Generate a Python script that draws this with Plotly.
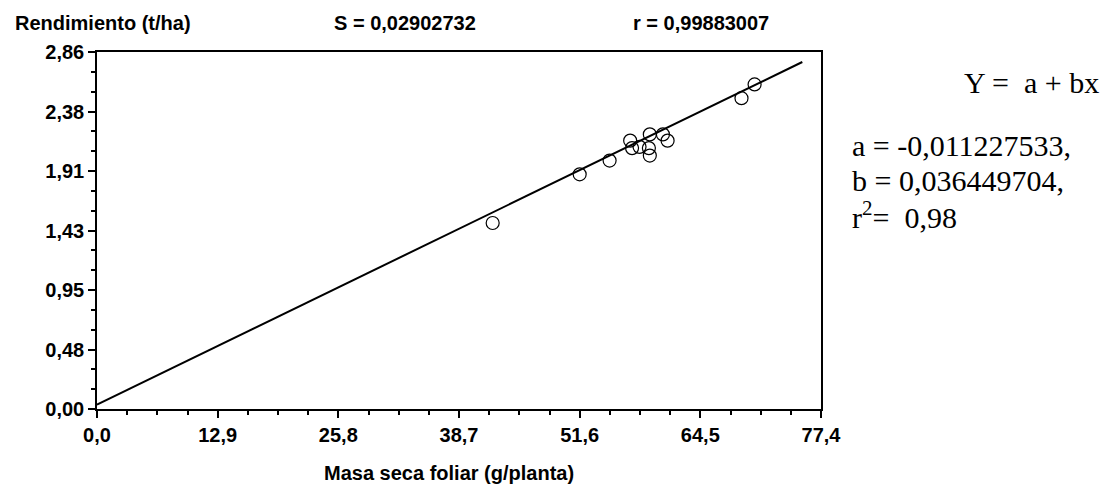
import plotly.graph_objects as go

# Observed points (masa seca foliar g/planta, rendimiento t/ha)
masa_seca = [42.3, 51.6, 54.8, 57.0, 57.2, 58.0, 59.1, 59.0, 59.1, 60.5, 61.0, 68.9, 70.3]
rendimiento = [1.49, 1.88, 1.99, 2.15, 2.09, 2.10, 2.20, 2.09, 2.03, 2.20, 2.15, 2.49, 2.60]

# Fitted line as drawn (endpoints)
linea_x = [0.0, 75.4]
linea_y = [0.035, 2.78]

x_tickvals = [0.0, 12.9, 25.8, 38.7, 51.6, 64.5, 77.4]
x_ticktext = ["0,0", "12,9", "25,8", "38,7", "51,6", "64,5", "77,4"]
y_tickvals = [0.0, 0.4767, 0.9533, 1.43, 1.9067, 2.3833, 2.86]
y_ticktext = ["0,00", "0,48", "0,95", "1,43", "1,91", "2,38", "2,86"]

header_texts = ["Rendimiento (t/ha)", "S = 0,02902732", "r = 0,99883007"]
eq_lines = ["Y =  a + bx", "a = -0,011227533,", "b = 0,036449704,", "r<sup>2</sup>=  0,98"]

SANS = "Arial, Liberation Sans, sans-serif"
SERIF = "Times New Roman, Liberation Serif, serif"

FW, FH = 1101, 486
# plot area edges in pixels
PL, PR, PT, PB = 97, 821, 52, 409
L, T, R, B = PL, PT, FW - PR, FH - PB
W, H = PR - PL, PB - PT


def px(x):
    return (x - PL) / W


def py(y):
    return (PB - y) / H


fig = go.Figure()
fig.add_trace(go.Scatter(x=linea_x, y=linea_y, mode="lines",
                         line=dict(color="black", width=2), hoverinfo="skip",
                         showlegend=False))
fig.add_trace(go.Scatter(x=masa_seca, y=rendimiento, mode="markers",
                         marker=dict(symbol="circle-open", size=13, color="black",
                                     line=dict(width=1.2, color="black")),
                         showlegend=False))

axis_common = dict(showline=True, linecolor="black", linewidth=1.5, mirror=True,
                   showgrid=False, zeroline=False, ticks="outside",
                   tickcolor="black", tickwidth=1.5,
                   tickfont=dict(family=SANS, size=20, color="black", weight="bold"))

fig.update_xaxes(range=[0, 77.4], tickvals=x_tickvals, ticktext=x_ticktext,
                 ticklen=7,
                 minor=dict(dtick=3.225, tick0=0, ticklen=4, ticks="outside",
                            tickcolor="black", tickwidth=1.5),
                 **axis_common)
fig.update_yaxes(range=[0, 2.86], tickvals=y_tickvals, ticktext=y_ticktext,
                 ticklen=7,
                 minor=dict(dtick=2.86 / 18, tick0=0, ticklen=4, ticks="outside",
                            tickcolor="black", tickwidth=1.5),
                 **axis_common)

annos = []
for txt, cx in zip(header_texts, [103, 405, 701]):
    annos.append(dict(text=txt, x=px(cx), y=py(23), xref="paper", yref="paper",
                      xanchor="center", yanchor="middle", showarrow=False,
                      font=dict(family=SANS, size=20, color="black", weight="bold")))
annos.append(dict(text="Masa seca foliar (g/planta)", x=px(449), y=py(473),
                  xref="paper", yref="paper", xanchor="center", yanchor="middle",
                  showarrow=False,
                  font=dict(family=SANS, size=20, color="black", weight="bold")))
eq_pos = [(962, 82), (850, 145), (850, 180), (850, 215)]
for txt, (lx, ly) in zip(eq_lines, eq_pos):
    annos.append(dict(text=txt, x=px(lx), y=py(ly), xref="paper", yref="paper",
                      xanchor="left", yanchor="middle", showarrow=False,
                      font=dict(family=SERIF, size=30, color="black")))

fig.update_layout(width=FW, height=FH,
                  margin=dict(l=L, r=R, t=T, b=B, pad=0),
                  plot_bgcolor="white", paper_bgcolor="white",
                  annotations=annos, showlegend=False)

fig.write_html("out.html", config={"displayModeBar": False},
               post_script="document.body.style.margin='0px';"
                           "document.body.style.overflow='hidden';")
